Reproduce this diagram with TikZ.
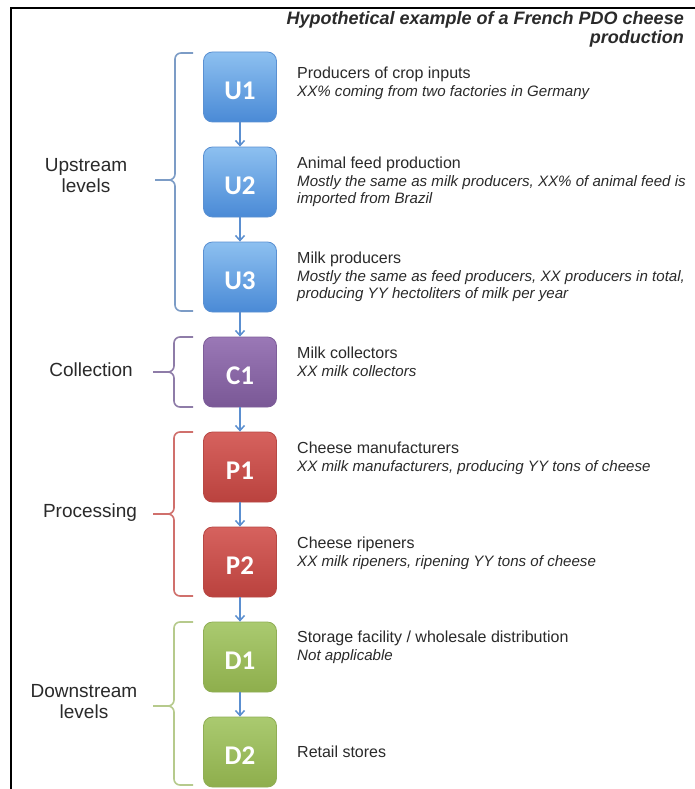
\documentclass[tikz,border=0pt]{standalone}
\usepackage{fontspec}
\setmainfont{Liberation Sans}
\newfontfamily\boxfont{Carlito}
\usetikzlibrary{arrows.meta}
\definecolor{uTop}{HTML}{8DC0F0}
\definecolor{uBot}{HTML}{4A8AD6}
\definecolor{uDr}{HTML}{5A90D2}
\definecolor{cTop}{HTML}{9A78B6}
\definecolor{cBot}{HTML}{7A5896}
\definecolor{cDr}{HTML}{7E5E9A}
\definecolor{pTop}{HTML}{D6625E}
\definecolor{pBot}{HTML}{BA423E}
\definecolor{pDr}{HTML}{B84844}
\definecolor{dTop}{HTML}{AACA70}
\definecolor{dBot}{HTML}{8EAE4C}
\definecolor{dDr}{HTML}{90AE55}
\definecolor{brU}{HTML}{7C9CC6}
\definecolor{brC}{HTML}{8E7CA8}
\definecolor{brP}{HTML}{D0706C}
\definecolor{brD}{HTML}{B6CA8C}
\definecolor{arr}{HTML}{5B8FD0}
\definecolor{txt}{HTML}{2A2A2A}
\begin{document}
\begin{tikzpicture}[x=1pt,y=-1pt,
  stagebox/.style={rounded corners=9pt, minimum width=73pt, minimum height=70pt,
    inner sep=0pt, text=white, font=\boxfont\bfseries\fontsize{27}{30}\selectfont,
    text height=25pt, text depth=0pt, line width=0.8pt},
  ubox/.style={stagebox, top color=uTop, bottom color=uBot, draw=uDr},
  cbox/.style={stagebox, top color=cTop, bottom color=cBot, draw=cDr},
  pbox/.style={stagebox, top color=pTop, bottom color=pBot, draw=pDr},
  dbox/.style={stagebox, top color=dTop, bottom color=dBot, draw=dDr},
  headtxt/.style={anchor=base west, inner sep=0pt, text=txt, font=\fontsize{16}{19}\selectfont},
  desctxt/.style={anchor=base west, inner sep=0pt, text=txt, font=\fontsize{15.1}{17}\selectfont\itshape},
  sidetxt/.style={align=center, inner sep=0pt, text=txt, font=\fontsize{19}{21}\selectfont},
  brace/.style={line width=1.6pt, rounded corners=6pt},
  flow/.style={draw=arr, line width=1.5pt, -{Straight Barb[length=5pt,width=9pt]}}
]
\path[use as bounding box, fill=white] (0,0) rectangle (695,789);
\draw[line width=1.5pt] (11,789) -- (11,8) -- (695,8);

% title
\node[anchor=base east, inner sep=0pt, text=txt, font=\fontsize{18}{21}\selectfont\bfseries\itshape] (title1) at (684,25) {Hypothetical example of a French PDO cheese};
\node[anchor=base east, inner sep=0pt, text=txt, font=\fontsize{18}{21}\selectfont\bfseries\itshape] (title2) at (684,44) {production};

% boxes
\node[ubox] (U1) at (240,87) {U1};
\node[ubox] (U2) at (240,182) {U2};
\node[ubox] (U3) at (240,277) {U3};
\node[cbox] (C1) at (240,372) {C1};
\node[pbox] (P1) at (240,467) {P1};
\node[pbox] (P2) at (240,562) {P2};
\node[dbox] (D1) at (240,657) {D1};
\node[dbox] (D2) at (240,752) {D2};

% arrows
\draw[flow] (U1) -- (U2);
\draw[flow] (U2) -- (U3);
\draw[flow] (U3) -- (C1);
\draw[flow] (C1) -- (P1);
\draw[flow] (P1) -- (P2);
\draw[flow] (P2) -- (D1);
\draw[flow] (D1) -- (D2);

% descriptions
\node[headtxt] (tU1) at (297,79) {Producers of crop inputs};
\node[desctxt] (dU1) at (297,97) {XX\% coming from two factories in Germany};

\node[headtxt] (tU2) at (297,168) {Animal feed production};
\node[desctxt] (dU2a) at (297,186) {Mostly the same as milk producers, XX\% of animal feed is};
\node[desctxt] (dU2b) at (297,203) {imported from Brazil};

\node[headtxt] (tU3) at (297,263) {Milk producers};
\node[desctxt] (dU3a) at (297,281) {Mostly the same as feed producers, XX producers in total,};
\node[desctxt] (dU3b) at (297,298) {producing YY hectoliters of milk per year};

\node[headtxt] (tC1) at (297,358) {Milk collectors};
\node[desctxt] (dC1) at (297,376) {XX milk collectors};

\node[headtxt] (tP1) at (297,453) {Cheese manufacturers};
\node[desctxt] (dP1) at (297,471) {XX milk manufacturers, producing YY tons of cheese};

\node[headtxt] (tP2) at (297,548) {Cheese ripeners};
\node[desctxt] (dP2) at (297,566) {XX milk ripeners, ripening YY tons of cheese};

\node[headtxt] (tD1) at (297,642) {Storage facility / wholesale distribution};
\node[desctxt] (dD1) at (297,660) {Not applicable};

\node[headtxt] (tD2) at (297,757) {Retail stores};

% brackets
\draw[brace, draw=brU] (193,53) -- (175,53) -- (175,180) -- (168,180);
\draw[brace, draw=brU] (193,311) -- (175,311) -- (175,180) -- (168,180);
\draw[line width=1.6pt, draw=brU] (169,180) -- (155,180);

\draw[brace, draw=brC] (193,337) -- (174,337) -- (174,372) -- (167,372);
\draw[brace, draw=brC] (193,407) -- (174,407) -- (174,372) -- (167,372);
\draw[line width=1.6pt, draw=brC] (168,372) -- (153,372);

\draw[brace, draw=brP] (193,432) -- (174,432) -- (174,514) -- (167,514);
\draw[brace, draw=brP] (193,596) -- (174,596) -- (174,514) -- (167,514);
\draw[line width=1.6pt, draw=brP] (168,514) -- (153,514);

\draw[brace, draw=brD] (193,622) -- (174,622) -- (174,706) -- (167,706);
\draw[brace, draw=brD] (193,785) -- (174,785) -- (174,706) -- (167,706);
\draw[line width=1.6pt, draw=brD] (168,706) -- (153,706);

% side labels
\node[sidetxt] (lU) at (86,176) {Upstream\\levels};
\node[sidetxt] (lC) at (91,370) {Collection};
\node[sidetxt] (lP) at (90,513) {Processing};
\node[sidetxt] (lD) at (84,702) {Downstream\\levels};
\end{tikzpicture}
\end{document}
